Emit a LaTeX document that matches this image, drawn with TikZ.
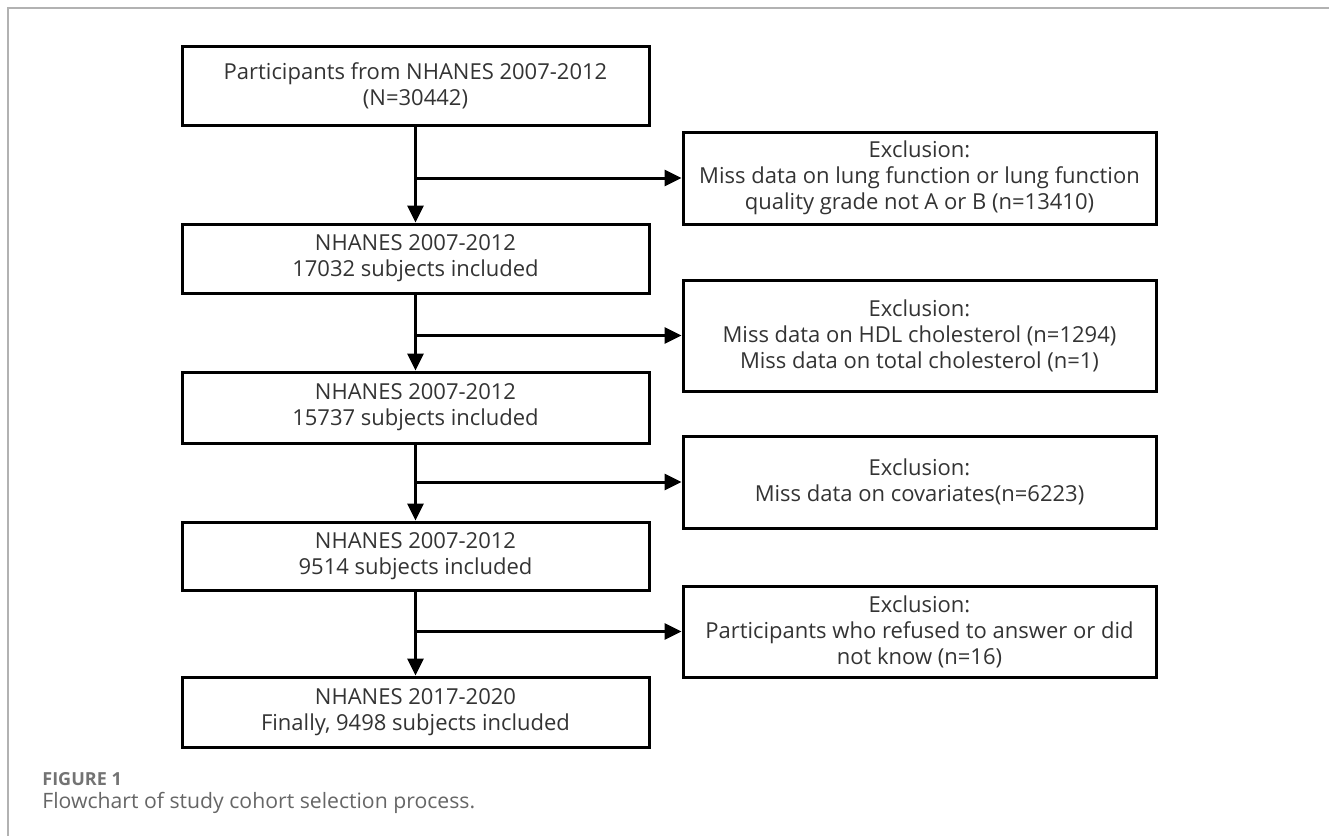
\documentclass[tikz,border=0pt]{standalone}
\usepackage{fontspec}
\setmainfont{Open Sans}
\usetikzlibrary{arrows.meta,positioning}

\begin{document}
\begin{tikzpicture}[x=0.5pt,y=-0.5pt,>={Triangle[length=8.5pt,width=8pt]},
    mainbox/.style={draw,line width=1.5pt,minimum width=233.5pt,align=center,inner sep=2pt,
        font=\fontsize{11}{13}\selectfont,text=black!80},
    exbox/.style={mainbox,minimum width=236.5pt},
    flow/.style={->,line width=1.5pt}]
\useasboundingbox (0,0) rectangle (1329,836);
\draw[black!30,line width=1pt] (1329,8) -- (8,8) -- (8,836);
% main column
\node[mainbox,minimum height=39.5pt] (p0) at (415.5,85.5) {Participants from NHANES 2007-2012\\(N=30442)};
\node[mainbox,minimum height=34.5pt] (p1) at (415.5,258.5) {NHANES 2007-2012\\17032 subjects included};
\node[mainbox,minimum height=35.5pt] (p2) at (415.5,407.5) {NHANES 2007-2012\\15737 subjects included};
\node[mainbox,minimum height=34pt] (p3) at (415.5,556) {NHANES 2007-2012\\9514 subjects included};
\node[mainbox,minimum height=35pt] (p4) at (415.5,712) {NHANES 2017-2020\\Finally, 9498 subjects included};
% exclusions
\node[exbox,minimum height=46pt] (e1) at (919.5,178) {Exclusion:\\Miss data on lung function or lung function\\quality grade not A or B (n=13410)};
\node[exbox,minimum height=55.5pt] (e2) at (919.5,335.5) {Exclusion:\\Miss data on HDL cholesterol (n=1294)\\Miss data on total cholesterol (n=1)};
\node[exbox,minimum height=46pt] (e3) at (919.5,482) {Exclusion:\\Miss data on covariates(n=6223)};
\node[exbox,minimum height=45.5pt] (e4) at (919.5,631.5) {Exclusion:\\Participants who refused to answer or did\\not know (n=16)};
\foreach \a/\b/\e in {p0/p1/e1,p1/p2/e2,p2/p3/e3,p3/p4/e4}{
    \draw[flow] (\a) -- (\b);
    \draw[flow] (\a.south |- \e.west) -- (\e.west);
}
% caption
\node[anchor=base west,inner sep=0pt,text=black!55,font=\fontsize{9}{11}\selectfont\bfseries] (fig) at (42,785) {FIGURE 1};
\node[anchor=base west,inner sep=0pt,text=black!60,font=\fontsize{10.6}{12}\selectfont] (cap) at (42,808) {Flowchart of study cohort selection process.};
\end{tikzpicture}
\end{document}
